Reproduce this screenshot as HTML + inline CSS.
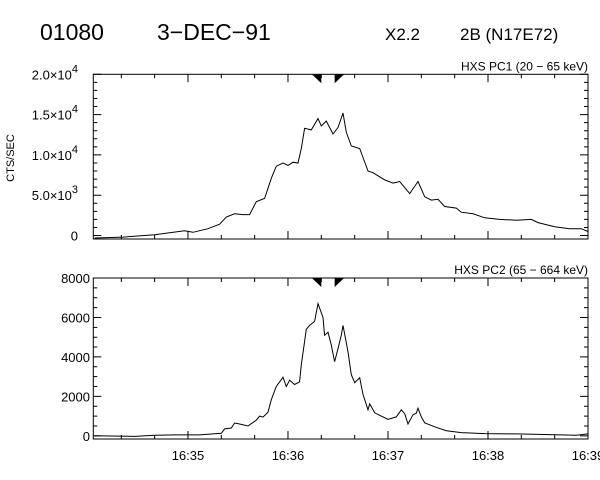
<!DOCTYPE html>
<html><head><meta charset="utf-8"><style>
html,body{margin:0;padding:0;background:#fff;}
svg{display:block;font-family:"Liberation Sans",sans-serif;}
</style></head><body>
<svg id="chart" width="600" height="480" viewBox="0 0 600 480" xmlns="http://www.w3.org/2000/svg">
<rect width="600" height="480" fill="#fff"/>
<text x="40" y="40" font-size="23" fill="#000">01080</text>
<text x="157" y="40" font-size="23" fill="#000" font-weight="300">3−DEC−91</text>
<text x="385" y="40" font-size="17" fill="#000">X2.2</text>
<text x="460" y="40" font-size="17" fill="#000">2B (N17E72)</text>
<text transform="translate(14,158) rotate(-90)" text-anchor="middle" font-size="11" fill="#000">CTS/SEC</text>
<g id="p1"></g>
<g id="p2"></g>
</svg>
<script>
// time in seconds after 16:34:00
const pc1Times = [4,21,40,58,63,72,79,83,88,93,97,101,106,110,113,117,120,123,126,128,130,134,138,140,143,147,150,153,155,158,163,168,171,178,183,187,193,198,202,206,210,214,221,224,231,238,247,257,266,270,280,289,296,300];
const pc1Counts = [-300,-200,100,600,400,850,1400,2300,2700,2600,2600,4200,4600,7100,8600,9000,8700,9100,9000,10800,13300,13100,14500,13600,14200,12600,13400,15200,12800,11100,10800,8000,7800,6900,6500,6700,5200,6700,4800,4400,4500,3600,3400,2900,2700,2200,2000,1900,2000,1600,1100,850,850,500];
const pc2Times = [4,28,40,53,67,80,82,86,88,91,96,101,103,105,108,110,113,117,119,121,124,127,128,131,133,136,138,141,142,144,146,148,150,152,153,156,158,160,163,165,168,169,172,175,180,185,188,190,192,195,197,198,200,202,208,215,224,238,257,277,293,300];
const pc2Counts = [0,-30,30,50,50,130,350,400,650,600,500,800,1000,950,1200,1830,2500,2970,2500,2820,2600,2740,3600,5400,5600,5800,6700,6000,5100,5250,4600,3760,4420,5100,5600,4260,3100,2700,2940,2100,1320,1620,1170,1040,840,960,1320,1120,600,1070,1150,1400,960,660,460,260,165,115,100,65,30,100];
const xTickTimes = [60,120,180,240,300];
const xTickLabels = ["16:35","16:36","16:37","16:38","16:39"];
const pc1TickValues = [0,5000,10000,15000,20000];
const pc1TickMant = ["0","5.0","1.0","1.5","2.0"];
const pc1TickExp = ["","3","4","4","4"];
const pc2TickValues = [0,2000,4000,6000,8000];
const pc2TickLabels = ["0","2000","4000","6000","8000"];
const markerTimes = [140,148];

const NS="http://www.w3.org/2000/svg";
const X0=93.3, X1=588, T0=3.2, T1=300;
function xs(t){return X0+(t-T0)/(T1-T0)*(X1-X0);}
function mk(tag,attrs,parent){const e=document.createElementNS(NS,tag);for(const k in attrs)e.setAttribute(k,attrs[k]);parent.appendChild(e);return e;}

function panel(g,top,bot,ymin,ymax,minorStep,times,vals,title,prefix,labelFn,tickVals,showX){
  const ys=v=>bot-(v-ymin)/(ymax-ymin)*(bot-top);
  const frame=mk('rect',{x:X0,y:top,width:X1-X0,height:bot-top,fill:'none',stroke:'#000','stroke-width':1},g);
  
  
  let d='';
  for(let t=20;t<T1;t+=20){
    const x=xs(t);const major=(t%60===0);const L=major?8:4;
    d+=`M${x} ${bot}v${-L}M${x} ${top}v${L}`;
  }
  for(let v=0;v<=ymax;v+=minorStep){
    const y=ys(v);const major=tickVals.includes(v);const L=major?8:4;
    d+=`M${X0} ${y}h${L}M${X1} ${y}h${-L}`;
  }
  const tk=mk('path',{d:d,stroke:'#000','stroke-width':1,fill:'none'},g);
  
  
  tickVals.forEach((v,i)=>{
    const t=labelFn(i,ys(v));
    
    
  });
  let p='';
  times.forEach((t,i)=>{p+=(i?'L':'M')+xs(t).toFixed(1)+' '+ys(vals[i]).toFixed(1);});
  const line=mk('path',{d:p,stroke:'#000','stroke-width':1,fill:'none'},g);
  
  
  const tt=mk('text',{x:X1,y:top-4,'text-anchor':'end','font-size':12},g);
  tt.textContent=title;
  
  
  markerTimes.forEach((t,i)=>{
    const x=xs(t);
    const pts=i===0?`${x-9.5},${top} ${x},${top} ${x},${top+9}`:`${x},${top} ${x+9.5},${top} ${x},${top+9}`;
    const m=mk('polygon',{points:pts,fill:'#000'},g);
    
    
  });
  if(showX){
    xTickTimes.forEach((t,i)=>{
      const l=mk('text',{x:xs(t),y:bot+21,'text-anchor':'middle','font-size':13},g);
      l.textContent=xTickLabels[i];
      
      
    });
  }
}
const g1=document.getElementById('p1');
panel(g1,74.3,239,-430,20000,1000,pc1Times,pc1Counts,'HXS PC1 (20 − 65 keV)','pc1',(i,y)=>{
  const t=mk('text',{x:78,y:y+5,'text-anchor':'end','font-size':13},g1);
  if(pc1TickExp[i]){
    t.textContent=pc1TickMant[i]+'×10';
    const s=mk('tspan',{dy:-7,'font-size':11},t);s.textContent=pc1TickExp[i];
  } else t.textContent=pc1TickMant[i];
  return t;
},pc1TickValues,false);
const g2=document.getElementById('p2');
panel(g2,278,439,-160,8000,500,pc2Times,pc2Counts,'HXS PC2 (65 − 664 keV)','pc2',(i,y)=>{
  const t=mk('text',{x:90,y:y+5,'text-anchor':'end','font-size':13},g2);
  t.textContent=pc2TickLabels[i];
  return t;
},pc2TickValues,true);
</script>
</body></html>
